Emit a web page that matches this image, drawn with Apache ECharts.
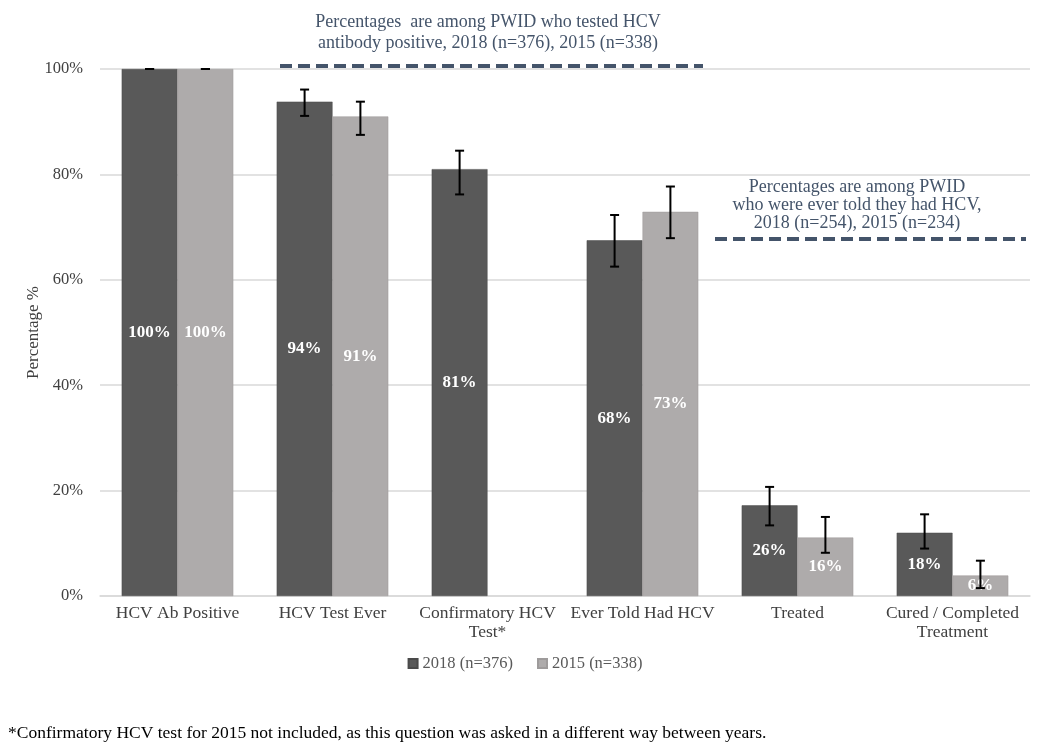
<!DOCTYPE html>
<html>
<head>
<meta charset="utf-8">
<script src="https://cdn.jsdelivr.net/npm/echarts@6/dist/echarts.min.js"></script>
<style>
html,body{margin:0;padding:0;background:#fff;}
#chart{width:1050px;height:754px;}
</style>
</head>
<body>
<div id="chart"></div>
<script>
// ---- data ----
var categories = ['HCV Ab Positive', 'HCV Test Ever', 'Confirmatory HCV\nTest*', 'Ever Told Had HCV', 'Treated', 'Cured / Completed\nTreatment'];
var seriesNames = ['2018 (n=376)', '2015 (n=338)'];
// bar heights as drawn (%)
var values2018 = [100, 93.8, 81.0, 67.5, 17.2, 12.0];
var values2015 = [100, 91.0, null, 72.9, 11.1, 3.9];
// printed labels
var labels2018 = ['100%', '94%', '81%', '68%', '26%', '18%'];
var labels2015 = ['100%', '91%', '', '73%', '16%', '6%'];
// error bars [low, high]
var err2018 = [[100, 100], [91.1, 96.1], [76.2, 84.5], [62.5, 72.3], [13.4, 20.7], [9.0, 15.5]];
var err2015 = [[100, 100], [87.5, 93.8], null, [67.9, 77.7], [8.2, 15.0], [1.5, 6.7]];
var yTicks = [0, 20, 40, 60, 80, 100];
var note1 = ['Percentages  are among PWID who tested HCV', 'antibody positive, 2018 (n=376), 2015 (n=338)'];
var note2 = ['Percentages are among PWID', 'who were ever told they had HCV,', '2018 (n=254), 2015 (n=234)'];
var footnote = '*Confirmatory HCV test for 2015 not included, as this question was asked in a different way between years.';

var SERIF = '"Liberation Serif", "DejaVu Serif", serif';
var colors = ['#595959', '#AEABAB'];
var CAT_GAP = 0.28;

function errSeries(errs, side) {
  var data = [];
  errs.forEach(function (e, i) { if (e) data.push([i, e[0], e[1]]); });
  return {
    type: 'custom',
    z: 10,
    silent: true,
    data: data,
    renderItem: function (params, api) {
      var idx = api.value(0);
      var lo = api.coord([idx, api.value(1)]);
      var hi = api.coord([idx, api.value(2)]);
      var band = api.size([1, 0])[0];
      var bw = band * (1 - CAT_GAP) / 2;
      var x = lo[0] + side * bw / 2;
      var cap = 4.5;
      var st = { stroke: '#000', lineWidth: 2 };
      return {
        type: 'group',
        children: [
          { type: 'line', shape: { x1: x, y1: lo[1], x2: x, y2: hi[1] }, style: st },
          { type: 'line', shape: { x1: x - cap, y1: lo[1], x2: x + cap, y2: lo[1] }, style: st },
          { type: 'line', shape: { x1: x - cap, y1: hi[1], x2: x + cap, y2: hi[1] }, style: st }
        ]
      };
    }
  };
}

function barLabel(labels) {
  return {
    show: true,
    position: 'inside',
    color: '#fff',
    fontFamily: SERIF,
    fontWeight: 'bold',
    fontSize: 17,
    formatter: function (p) { return labels[p.dataIndex]; }
  };
}

var chart = echarts.init(document.getElementById('chart'));
var noteColor = '#44546A';
var noteFont = '18px ' + SERIF;
var option = {
  animation: false,
  backgroundColor: '#fff',
  grid: { left: 100, right: 20, top: 69, bottom: 158 },
  legend: {
    data: seriesNames,
    bottom: 77,
    left: 'center',
    itemWidth: 9,
    itemHeight: 9,
    itemGap: 24,
    textStyle: { fontFamily: SERIF, fontSize: 16.5, color: '#595959' },
    icon: 'rect'
  },
  xAxis: {
    type: 'category',
    data: categories,
    axisLine: { lineStyle: { color: '#D9D9D9', width: 1.5 } },
    axisTick: { show: false },
    axisLabel: { fontFamily: SERIF, fontSize: 17.5, color: '#404040', margin: 8, lineHeight: 19, interval: 0 }
  },
  yAxis: {
    type: 'value',
    min: 0, max: 100, interval: 20,
    name: 'Percentage %',
    nameLocation: 'middle',
    nameGap: 58,
    nameMoveOverlap: false,
    nameRotate: 90,
    nameTextStyle: { fontFamily: SERIF, fontSize: 17, color: '#404040' },
    axisLine: { show: false },
    axisTick: { show: false },
    splitLine: { lineStyle: { color: '#D9D9D9', width: 1.5 } },
    axisLabel: {
      fontFamily: SERIF, fontSize: 16.5, color: '#404040', margin: 17,
      formatter: function (v) { return yTicks.indexOf(v) >= 0 ? v + '%' : ''; }
    }
  },
  series: [
    {
      name: seriesNames[0], type: 'bar', data: values2018,
      barGap: '0%', barCategoryGap: (CAT_GAP * 100) + '%',
      itemStyle: { color: colors[0], borderColor: '#4a4a4a', borderWidth: 0.5 },
      label: barLabel(labels2018)
    },
    {
      name: seriesNames[1], type: 'bar', data: values2015,
      barGap: '0%', barCategoryGap: (CAT_GAP * 100) + '%',
      itemStyle: { color: colors[1], borderColor: '#9e9b9b', borderWidth: 0.5 },
      label: barLabel(labels2015)
    },
    errSeries(err2018, -1),
    errSeries(err2015, 1)
  ],
  graphic: [
    { type: 'text', x: 488, y: 22, style: { text: note1[0], fill: noteColor, font: noteFont, textAlign: 'center', textVerticalAlign: 'middle' } },
    { type: 'text', x: 488, y: 43, style: { text: note1[1], fill: noteColor, font: noteFont, textAlign: 'center', textVerticalAlign: 'middle' } },
    { type: 'line', shape: { x1: 280, y1: 66, x2: 703, y2: 66 }, style: { stroke: noteColor, lineWidth: 4, lineDash: [12, 6] } },
    { type: 'text', x: 857, y: 187, style: { text: note2[0], fill: noteColor, font: noteFont, textAlign: 'center', textVerticalAlign: 'middle' } },
    { type: 'text', x: 857, y: 205, style: { text: note2[1], fill: noteColor, font: noteFont, textAlign: 'center', textVerticalAlign: 'middle' } },
    { type: 'text', x: 857, y: 223, style: { text: note2[2], fill: noteColor, font: noteFont, textAlign: 'center', textVerticalAlign: 'middle' } },
    { type: 'line', shape: { x1: 715, y1: 239, x2: 1026, y2: 239 }, style: { stroke: noteColor, lineWidth: 4, lineDash: [12, 6] } },
    { type: 'text', x: 8, y: 733, style: { text: footnote, fill: '#000', font: '17.5px ' + SERIF, textAlign: 'left', textVerticalAlign: 'middle' } }
  ]
};
chart.setOption(option);
</script>
</body>
</html>
